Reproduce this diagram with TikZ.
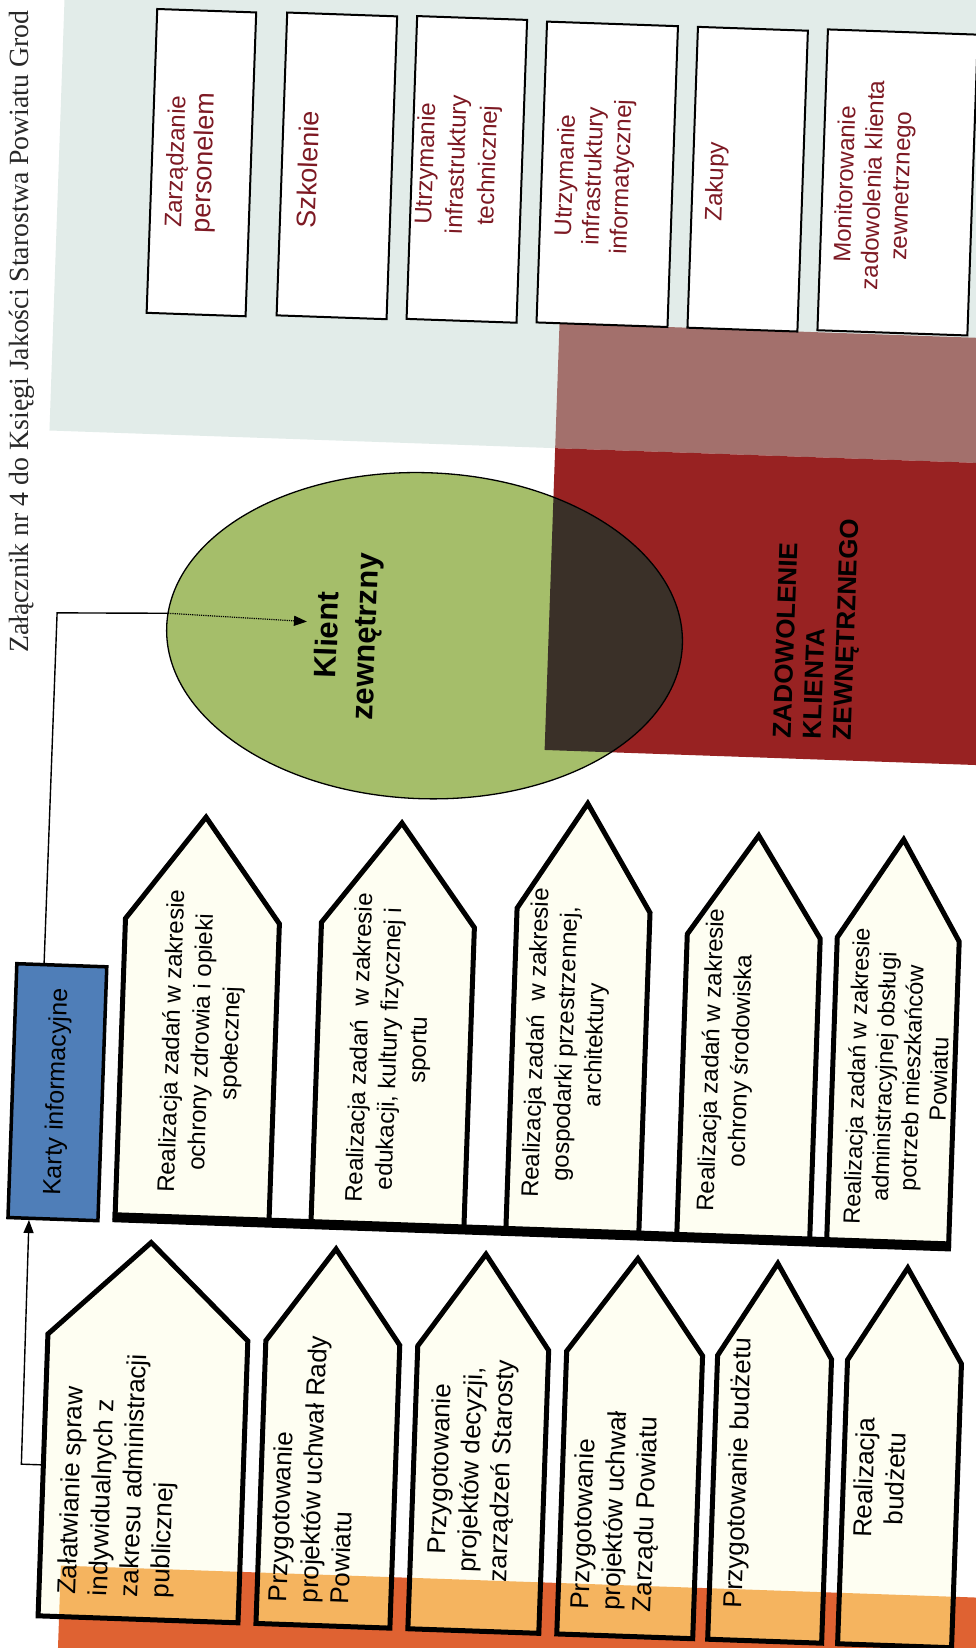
\documentclass[tikz,border=0pt]{standalone}
\usepackage{fontspec}
\setmainfont{Liberation Sans}
\newfontfamily\hdrfont{Liberation Serif}
\usetikzlibrary{shapes.geometric,arrows.meta,calc}
\definecolor{bgmint}{RGB}{226,236,233}
\definecolor{mauve}{RGB}{163,112,108}
\definecolor{zred}{RGB}{152,34,34}
\definecolor{kgreen}{RGB}{165,190,106}
\definecolor{darkov}{RGB}{58,48,40}
\definecolor{kblue}{RGB}{79,126,184}
\definecolor{ordark}{RGB}{223,98,50}
\definecolor{orlight}{RGB}{245,180,95}
\definecolor{ivory}{RGB}{254,254,242}
\definecolor{maroon}{RGB}{125,25,35}
\definecolor{hdrgray}{RGB}{40,40,40}
\tikzset{
  rt/.style={rotate=90, inner sep=0pt, align=center},
  lowtxt/.style={rt, font=\fontsize{26}{31}\selectfont},
  uptxt/.style={rt, font=\fontsize{24}{29.5}\selectfont},
  toptxt/.style={rt, text=maroon, font=\fontsize{24}{29}\selectfont},
  topbox/.style={draw=black, fill=white, line width=2pt},
  boxline/.style={draw=black, line width=5pt, line join=miter},
  conn/.style={draw=black, line width=1.4pt},
  arrowhd/.style={-{Triangle[length=13pt,width=10pt]}},
}
\newcommand\upbox[5]{%
  \filldraw[fill=ivory, boxline] (#1,1230) -- (#1,#5) -- (#3,#4) -- (#2,#5) -- (#2,1230) -- cycle;}
\newcommand\lowbox[5]{%
  \fill[ivory] (#1,1631) -- (#1,#5) -- (#3,#4) -- (#2,#5) -- (#2,1631) -- cycle;
  \begin{scope}
    \clip (#1,1631) -- (#1,#5) -- (#3,#4) -- (#2,#5) -- (#2,1631) -- cycle;
    \fill[orlight] (87,1580) rectangle (1100,1700);
  \end{scope}
  \draw[boxline] (#1,1631) -- (#1,#5) -- (#3,#4) -- (#2,#5) -- (#2,1631) -- cycle;}
\begin{document}
\begin{tikzpicture}[x=1pt,y=-1pt]
\useasboundingbox (0,0) rectangle (975,1648);
\fill[white] (0,0) rectangle (975,1648);
\node[anchor=base west, rotate=90, inner sep=0pt, text=hdrgray, font=\hdrfont\fontsize{27.8}{30}\selectfont] (hdr) at (28,653) {Załącznik nr 4 do Księgi Jakości Starostwa Powiatu Grod};
\begin{scope}[rotate around={-2:(487,824)}, every node/.append style={transform shape}]
 % backgrounds
 \fill[bgmint] (36,-100) rectangle (1100,446);
 \fill[mauve] (542,321) rectangle (1100,446);
 \fill[zred] (542,446) rectangle (1100,748);
 % ellipse
 \node[ellipse, minimum width=516pt, minimum height=326pt, inner sep=0pt, outer sep=0pt] (klient) at (418,638) {};
 \fill[kgreen] (418,638) ellipse [x radius=258pt, y radius=163pt];
 \begin{scope}
  \clip (542,446) rectangle (1100,748);
  \fill[darkov] (418,638) ellipse [x radius=258pt, y radius=163pt];
 \end{scope}
 \draw[line width=1.3pt] (418,638) ellipse [x radius=258pt, y radius=163pt];
 \node[rt, font=\bfseries\fontsize{31}{38}\selectfont] (klienttxt) at (342,641) {Klient\\zewnętrzny};
 \node[rt, align=left, font=\bfseries\fontsize{26}{30}\selectfont] (zadow) at (811,617) {ZADOWOLENIE\\KLIENTA\\ZEWNĘTRZNEGO};
 % top boxes
 \draw[topbox] (129,21) rectangle (228,325);
 \draw[topbox] (259,20) rectangle (369,323);
 \draw[topbox] (389,19) rectangle (499,322);
 \draw[topbox] (519,20) rectangle (650,321);
 \draw[topbox] (670,20) rectangle (780,321);
 \draw[topbox] (800,18) rectangle (950,319);
 \node[toptxt] (t1) at (169,173) {Zarządzanie\\{\fontsize{27}{29}\selectfont personelem}};
 \node[toptxt, font=\fontsize{27}{29}\selectfont] (t2) at (285,176) {Szkolenie};
 \node[toptxt, font=\fontsize{24}{31}\selectfont] (t3) at (435,166) {Utrzymanie\\infrastruktury\\technicznej};
 \node[toptxt, font=\fontsize{24}{28}\selectfont] (t4) at (572,173) {Utrzymanie\\infrastruktury\\informatycznej};
 \node[toptxt] (t5) at (694,174) {Zakupy};
 \node[toptxt, font=\fontsize{24}{28}\selectfont] (t6) at (852,172) {Monitorowanie\\zadowolenia klienta\\zewnetrznego};
 % upper row
 \upbox{129}{283}{206}{827}{931}
 \upbox{325}{478}{402}{826}{928}
 \upbox{520}{653}{587}{800}{907}
 \upbox{691}{824}{759}{826}{927}
 \upbox{841}{963}{904}{825}{925}
 \draw[line width=10pt] (126.5,1230) -- (965.5,1230);
 \node[uptxt] (r1) at (210,1052) {Realizacja zadań w zakresie\\ochrony zdrowia i opieki\\społecznej};
 \node[uptxt] (r2) at (398,1052) {Realizacja zadań~ w zakresie\\edukacji, kultury fizycznej i\\sportu};
 \node[uptxt] (r3) at (574,1041) {Realizacja zadań~ w zakresie\\gospodarki przestrzennej,\\architektury};
 \node[uptxt] (r4) at (735,1052) {Realizacja zadań w zakresie\\ochrony środowiska};
 \node[uptxt, font=\fontsize{23.5}{27.5}\selectfont] (r5) at (906,1063) {Realizacja zadań w zakresie\\administracyjnej obsługi\\potrzeb mieszkańców\\Powiatu};
 % lower row
 \fill[ordark] (87,1580) rectangle (1100,1700);
 \lowbox{66}{266}{166}{1254}{1349}
 \lowbox{284}{418}{351}{1254}{1348}
 \lowbox{436}{567}{501}{1254}{1348}
 \lowbox{585}{721}{653}{1253}{1348}
 \lowbox{736}{850}{793}{1253}{1347}
 \lowbox{866}{980}{923}{1253}{1347}
 \node[lowtxt, align=left, anchor=north west] (b1) at (84,1609) {Załatwianie spraw\\indywidualnych z\\zakresu administracji\\publicznej};
 \node[lowtxt, align=left, anchor=north west] (b2) at (295,1609) {Przygotowanie\\projektów uchwał Rady\\Powiatu};
 \node[lowtxt] (b3) at (495,1470) {Przygotowanie\\projektów decyzji,\\zarządzeń Starosty};
 \node[lowtxt, align=left, anchor=north west] (b4) at (597,1606) {Przygotowanie\\projektów uchwał\\Zarządu Powiatu};
 \node[lowtxt, align=left, anchor=north west] (b5) at (750,1599) {Przygotowanie budżetu};
 \node[lowtxt] (b6) at (902,1464) {Realizacja\\budżetu};
 % Karty informacyjne
 \node[draw=black, line width=3.5pt, fill=kblue, rotate=90, minimum width=254pt, minimum height=90pt, inner sep=0pt, font=\fontsize{25}{30}\selectfont] (karty) at (67,1107) {Karty informacyjne};
 % connectors
 \coordinate (corner) at (50,628);
 \coordinate (ktip) at (300,628);
 \coordinate (b1w) at (66,1480);
 \coordinate (c1) at (44,1480);
 \draw[conn, arrowhd] (b1w) -- (c1) -- ($(karty.north west)!0.244!(karty.south west)$);
 \draw[conn] ($(karty.north east)!0.31!(karty.south east)$) -- (corner) -- (klient.177.8);
 \draw[line width=1.2pt, densely dotted, arrowhd] (klient.177.8) -- (ktip);
\end{scope}
\end{tikzpicture}
\end{document}
